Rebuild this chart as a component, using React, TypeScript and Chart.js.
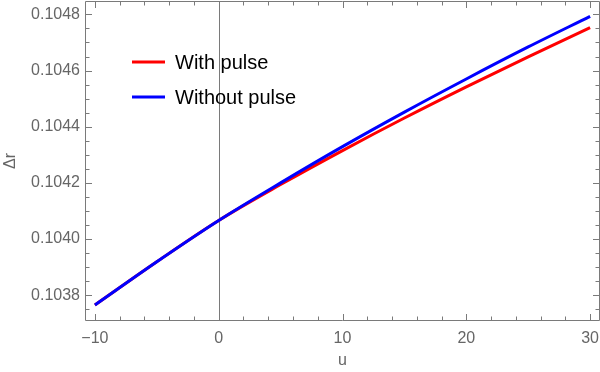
import React, { useEffect, useRef } from "react";
import { Chart, registerables } from "chart.js";

Chart.register(...registerables);

// ---- data ----
const uValues = [-10, -5, 0, 5, 10, 15, 20, 25, 30];
const withPulse = [0.103765, 0.103919, 0.104066, 0.104194, 0.104315, 0.104431, 0.104542, 0.104649, 0.104753];
const withoutPulse = [0.103765, 0.103919, 0.104066, 0.1042, 0.104329, 0.104452, 0.10457, 0.104684, 0.104793];
const xTicks = [-10, 0, 10, 20, 30];
const yTicks = [0.1038, 0.104, 0.1042, 0.1044, 0.1046, 0.1048];
const seriesNames = ["With pulse", "Without pulse"];
const xTitle = "u";
const yTitle = "Δr";

const X_MIN = -10.8;
const X_MAX = 30.8;
const Y_MIN = 0.103708;
const Y_MAX = 0.1048477;
const X_MINOR_STEP = 2;
const Y_MINOR_STEP = 0.00005;

const FONT = '"Liberation Sans", Arial, sans-serif';
const GRAY = "#666666";
const FRAME = "#7a7a7a";

const zeroPadding = (s: any) => {
  s.paddingTop = 0;
  s.paddingBottom = 0;
  s.paddingLeft = 0;
  s.paddingRight = 0;
};

const framePlugin = {
  id: "mmaFrame",
  beforeDatasetsDraw(chart: any) {
    const { ctx, chartArea, scales } = chart;
    const x0 = Math.round(scales.x.getPixelForValue(0)) + 0.5;
    ctx.save();
    ctx.strokeStyle = FRAME;
    ctx.lineWidth = 1;
    ctx.beginPath();
    ctx.moveTo(x0, chartArea.top);
    ctx.lineTo(x0, chartArea.bottom);
    ctx.stroke();
    ctx.restore();
  },
  afterDatasetsDraw(chart: any) {
    const { ctx, chartArea, scales } = chart;
    const { left, right, top, bottom } = chartArea;
    const L = left + 0.5, R = right - 0.5, T = top + 0.5, B = bottom - 0.5;
    ctx.save();
    ctx.strokeStyle = FRAME;
    ctx.lineWidth = 1;
    ctx.beginPath();
    ctx.rect(L, T, R - L, B - T);
    ctx.stroke();
    ctx.beginPath();
    const xStart = Math.ceil(X_MIN / X_MINOR_STEP) * X_MINOR_STEP;
    for (let v = xStart; v <= X_MAX + 1e-9; v += X_MINOR_STEP) {
      const major = xTicks.some((t) => Math.abs(t - v) < 1e-9);
      const len = major ? 6.5 : 4;
      const px = Math.round(scales.x.getPixelForValue(v)) + 0.5;
      ctx.moveTo(px, B);
      ctx.lineTo(px, B - len);
      ctx.moveTo(px, T);
      ctx.lineTo(px, T + len);
    }
    const nStart = Math.ceil(Y_MIN / Y_MINOR_STEP);
    for (let n = nStart; n * Y_MINOR_STEP <= Y_MAX + 1e-12; n++) {
      const v = n * Y_MINOR_STEP;
      const major = yTicks.some((t) => Math.abs(t - v) < 1e-9);
      const len = major ? 6.5 : 4;
      const py = Math.round(scales.y.getPixelForValue(v)) + 0.5;
      ctx.moveTo(L, py);
      ctx.lineTo(L + len, py);
      ctx.moveTo(R, py);
      ctx.lineTo(R - len, py);
    }
    ctx.stroke();
    ctx.restore();
  },
  afterDraw(chart: any) {
    const { ctx, chartArea } = chart;
    ctx.save();
    ctx.fillStyle = GRAY;
    ctx.font = `16px ${FONT}`;
    ctx.textAlign = "center";
    ctx.textBaseline = "middle";
    ctx.fillText(xTitle, (chartArea.left + chartArea.right) / 2, 361);
    ctx.save();
    ctx.translate(11, (chartArea.top + chartArea.bottom) / 2);
    ctx.rotate(-Math.PI / 2);
    ctx.fillText(yTitle, 0, 0);
    ctx.restore();
    const ds = chart.data.datasets;
    const rows = [62, 97];
    ctx.font = `20px ${FONT}`;
    ctx.textAlign = "left";
    ctx.textBaseline = "alphabetic";
    ds.forEach((d: any, i: number) => {
      const y = rows[i];
      ctx.strokeStyle = d.borderColor;
      ctx.lineWidth = 3;
      ctx.beginPath();
      ctx.moveTo(132, y);
      ctx.lineTo(165, y);
      ctx.stroke();
      ctx.fillStyle = "#000000";
      ctx.fillText(d.label, 175, y + 7);
    });
    ctx.restore();
  },
};

export default function App() {
  const ref = useRef<HTMLCanvasElement | null>(null);
  useEffect(() => {
    if (!ref.current) return;
    const chart = new Chart(ref.current, {
      type: "line",
      data: {
        datasets: [
          {
            label: seriesNames[0],
            data: uValues.map((u, i) => ({ x: u, y: withPulse[i] })),
            borderColor: "#ff0000",
            backgroundColor: "#ff0000",
            borderWidth: 3,
            pointRadius: 0,
            cubicInterpolationMode: "monotone",
            order: 1,
          },
          {
            label: seriesNames[1],
            data: uValues.map((u, i) => ({ x: u, y: withoutPulse[i] })),
            borderColor: "#0000ff",
            backgroundColor: "#0000ff",
            borderWidth: 3,
            pointRadius: 0,
            cubicInterpolationMode: "monotone",
            order: 0,
          },
        ],
      },
      options: {
        animation: false,
        responsive: false,
        maintainAspectRatio: false,
        layout: { padding: { top: 1, right: 0, left: 0, bottom: 0 } },
        plugins: { legend: { display: false }, tooltip: { enabled: false } },
        scales: {
          x: {
            type: "linear",
            min: X_MIN,
            max: X_MAX,
            afterBuildTicks: (s: any) => {
              s.ticks = xTicks.map((v) => ({ value: v }));
            },
            afterFit: (s: any) => {
              s.height = 51;
              zeroPadding(s);
            },
            grid: { display: false, drawTicks: false },
            border: { display: false },
            ticks: {
              color: GRAY,
              font: { family: FONT, size: 16 },
              padding: 8,
              maxRotation: 0,
              autoSkip: false,
              callback: (v: any) => (Number(v) < 0 ? "\u2212" + Math.abs(Number(v)) : String(v)),
            },
          },
          y: {
            type: "linear",
            min: Y_MIN,
            max: Y_MAX,
            afterBuildTicks: (s: any) => {
              s.ticks = yTicks.map((v) => ({ value: v }));
            },
            afterFit: (s: any) => {
              s.width = 85;
              zeroPadding(s);
            },
            grid: { display: false, drawTicks: false },
            border: { display: false },
            ticks: {
              color: GRAY,
              font: { family: FONT, size: 16 },
              padding: 5,
              autoSkip: false,
              callback: (v: any) => Number(v).toFixed(4),
            },
          },
        },
      },
      plugins: [framePlugin],
    } as any);
    return () => chart.destroy();
  }, []);
  return (
    <div style={{ position: "absolute", left: 0, top: 0, width: 600, height: 372, background: "#fff" }}>
      <canvas ref={ref} width={600} height={372} style={{ display: "block", width: 600, height: 372 }} />
    </div>
  );
}
